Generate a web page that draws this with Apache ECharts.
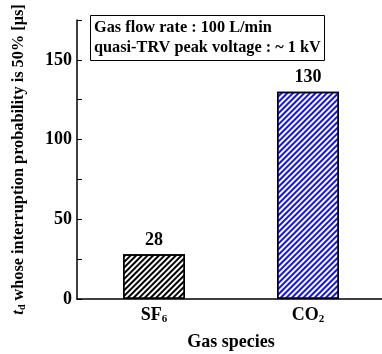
<!DOCTYPE html>
<html>
<head>
<meta charset="utf-8">
<script src="https://cdn.jsdelivr.net/npm/echarts@6/dist/echarts.min.js"></script>
<style>
  html, body { margin: 0; padding: 0; background: #fff; }
  #main { width: 382px; height: 354px; }
</style>
</head>
<body>
<div id="main"></div>
<script>
// 数据
var categories = ['SF6', 'CO2'];
var tdValues = [28, 130];
var barColors = ['#000000', '#1010ff'];

var font = 'Liberation Serif';
var chart = echarts.init(document.getElementById('main'));

var option = {
  animation: false,
  backgroundColor: '#fff',
  title: {
    text: 'Gas flow rate : 100 L/min\nquasi-TRV peak voltage : ~ 1 kV',
    left: 90,
    top: 15,
    padding: [3, 4, 3, 4],
    borderColor: '#000',
    borderWidth: 1,
    textStyle: { fontFamily: font, fontWeight: 'bold', fontSize: 16.3, lineHeight: 20, color: '#000' }
  },
  grid: { left: 77, right: -3, top: 20, bottom: 55, outerBoundsMode: 'none' },
  xAxis: {
    type: 'category',
    data: categories,
    name: 'Gas species',
    nameLocation: 'middle',
    nameGap: 34,
    nameTextStyle: { fontFamily: font, fontWeight: 'bold', fontSize: 18, color: '#000' },
    axisLine: { lineStyle: { color: '#000', width: 1.5 } },
    axisTick: { show: false },
    axisLabel: {
      margin: 6,
      formatter: function (v) {
        return '{b|' + v.slice(0, -1) + '}{s|' + v.slice(-1) + '}';
      },
      rich: {
        b: { fontFamily: font, fontWeight: 'bold', fontSize: 18, color: '#000' },
        s: { fontFamily: font, fontWeight: 'bold', fontSize: 11, color: '#000', verticalAlign: 'bottom', padding: [9, 0, 0, 0] }
      }
    }
  },
  yAxis: {
    type: 'value',
    min: 0,
    max: 175,
    interval: 25,
    name: '{i|t}{d|d}{n| whose interruption probability is 50% [μs]}',
    nameLocation: 'middle',
    nameRotate: 90,
    nameGap: 50,
    nameTextStyle: {
      rich: {
        i: { fontFamily: font, fontWeight: 'bold', fontStyle: 'italic', fontSize: 16.3, color: '#000' },
        d: { fontFamily: font, fontWeight: 'bold', fontSize: 10, color: '#000', verticalAlign: 'bottom', padding: [7, 0, 0, 0] },
        n: { fontFamily: font, fontWeight: 'bold', fontSize: 16.3, color: '#000' }
      }
    },
    splitLine: { show: false },
    axisLine: { show: true, lineStyle: { color: '#000', width: 1.5 } },
    axisTick: { show: true, inside: true, length: 5, lineStyle: { color: '#000' } },
    axisLabel: {
      margin: 5,
      fontFamily: font, fontWeight: 'bold', fontSize: 18, color: '#000',
      formatter: function (v) { return v % 50 === 0 ? v : ''; }
    }
  },
  series: [{
    type: 'bar',
    barWidth: 62,
    data: tdValues.map(function (v, i) {
      return {
        value: v,
        itemStyle: {
          color: '#fff',
          borderColor: '#000',
          borderWidth: 1.5,
          decal: {
            symbol: 'rect',
            symbolSize: 1,
            color: barColors[i],
            dashArrayX: [1, 0],
            dashArrayY: [1.5, 1.8],
            rotation: -Math.PI / 4
          }
        }
      };
    }),
    label: {
      show: true,
      position: 'top',
      distance: 5,
      fontFamily: font, fontWeight: 'bold', fontSize: 18, color: '#000'
    }
  }]
};

chart.setOption(option);
</script>
</body>
</html>
